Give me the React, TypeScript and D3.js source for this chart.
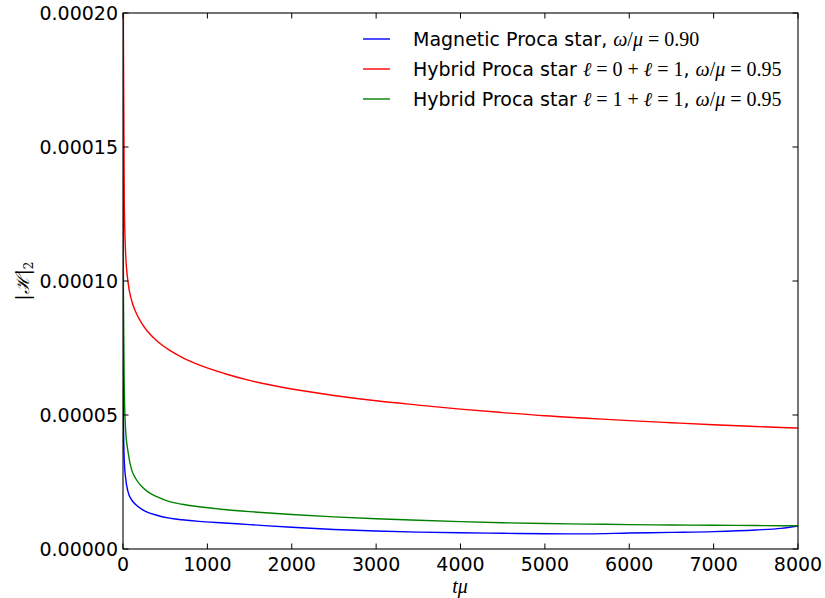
import React from "react";
import * as d3 from "d3";

const tGrid = [0, 5, 15, 30, 60, 100, 150, 220, 300, 400, 550, 700, 900, 1200, 1500, 2000, 2500, 3000, 3500, 4000, 4500, 5000, 5500, 6000, 6500, 7000, 7500, 7800, 8000];

// values in units of 1e-6
const hybrid01 = [300, 190, 130, 111, 99.5, 93.0, 88.5, 84.3, 80.9, 77.7, 74.2, 71.5, 68.7, 65.5, 62.9, 59.7, 57.3, 55.3, 53.7, 52.2, 50.9, 49.7, 48.8, 47.9, 47.1, 46.35, 45.7, 45.35, 45.1];

const hybrid11 = [180, 95, 60, 45, 36.2, 29.8, 26.3, 23.4, 21.2, 19.5, 17.7, 16.7, 15.75, 14.75, 13.95, 12.85, 12.0, 11.3, 10.7, 10.2, 9.8, 9.5, 9.3, 9.1, 8.95, 8.85, 8.75, 8.7, 8.7];

const magnetic = [80, 48, 33, 26.8, 21.3, 18.4, 16.6, 14.9, 13.6, 12.6, 11.5, 10.9, 10.3, 9.7, 9.1, 8.1, 7.3, 6.7, 6.3, 6.05, 5.85, 5.7, 5.65, 5.95, 6.2, 6.5, 7.1, 7.7, 8.6];

const xTicks = [0, 1000, 2000, 3000, 4000, 5000, 6000, 7000, 8000];
const yTicks = [0, 0.00005, 0.0001, 0.00015, 0.0002];

const seriesNames = ["Magnetic Proca star", "Hybrid Proca star", "Hybrid Proca star"];
const seriesColors = ["#0000ff", "#ff0000", "#008000"];

const W = 825, H = 598;
const L = 123, R = 798, T = 13, B = 549;

export default function App() {
  const x = d3.scaleLinear().domain([0, 8000]).range([L, R]);
  const y = d3.scaleLinear().domain([0, 0.0002]).range([B, T]);
  const line = d3
    .line<number>()
    .x((_, i) => x(tGrid[i]))
    .y((d) => y(d * 1e-6))
    .curve(d3.curveMonotoneX);

  const series = [magnetic, hybrid01, hybrid11];
  const sans = "'DejaVu Sans', sans-serif";
  const serif = "'DejaVu Serif', serif";
  const tickLen = 5.5;
  const math = { fontFamily: "'Liberation Serif', serif", fontSize: 20 } as const;

  const legendRows = [
    (
      <>
        <tspan>{seriesNames[0]}, </tspan>
        <tspan style={math}>
          <tspan fontStyle="italic">ω</tspan>/<tspan fontStyle="italic">μ</tspan> = 0.90
        </tspan>
      </>
    ),
    (
      <>
        <tspan>{seriesNames[1]} </tspan>
        <tspan style={math}>
          <tspan fontStyle="italic">ℓ</tspan> = 0 + <tspan fontStyle="italic">ℓ</tspan> = 1
        </tspan>
        <tspan>, </tspan>
        <tspan style={math}>
          <tspan fontStyle="italic">ω</tspan>/<tspan fontStyle="italic">μ</tspan> = 0.95
        </tspan>
      </>
    ),
    (
      <>
        <tspan>{seriesNames[2]} </tspan>
        <tspan style={math}>
          <tspan fontStyle="italic">ℓ</tspan> = 1 + <tspan fontStyle="italic">ℓ</tspan> = 1
        </tspan>
        <tspan>, </tspan>
        <tspan style={math}>
          <tspan fontStyle="italic">ω</tspan>/<tspan fontStyle="italic">μ</tspan> = 0.95
        </tspan>
      </>
    ),
  ];

  return (
    <svg width={W} height={H} style={{ position: "absolute", left: 0, top: 0, background: "#fff" }}>
      <defs>
        <clipPath id="plotclip">
          <rect x={L} y={T} width={R - L} height={B - T} />
        </clipPath>
      </defs>
      <rect x={0} y={0} width={W} height={H} fill="#fff" />
      <g clipPath="url(#plotclip)">
        {series.map((s, i) => (
          <path key={i} d={line(s) || ""} fill="none" stroke={seriesColors[i]} strokeWidth={1.4} />
        ))}
      </g>
      <rect x={L} y={T} width={R - L} height={B - T} fill="none" stroke="#000" strokeWidth={1.1} />
      {xTicks.map((t) => (
        <g key={"x" + t}>
          <line x1={x(t)} x2={x(t)} y1={B} y2={B - tickLen} stroke="#000" />
          <line x1={x(t)} x2={x(t)} y1={T} y2={T + tickLen} stroke="#000" />
          <text x={x(t)} y={570.5} textAnchor="middle" fontFamily={sans} fontSize={19}>
            {t}
          </text>
        </g>
      ))}
      {yTicks.map((v) => (
        <g key={"y" + v}>
          <line x1={L} x2={L + tickLen} y1={y(v)} y2={y(v)} stroke="#000" />
          <line x1={R} x2={R - tickLen} y1={y(v)} y2={y(v)} stroke="#000" />
          <text x={L - 5} y={y(v)} dy="0.36em" textAnchor="end" fontFamily={sans} fontSize={19}>
            {d3.format(".5f")(v)}
          </text>
        </g>
      ))}
      <text x={460} y={593} textAnchor="middle" style={math}>
        <tspan fontStyle="italic">tμ</tspan>
      </text>
      <text transform="translate(29,281) rotate(-90)" textAnchor="middle" fontFamily={serif} fontSize={18}>
        |<tspan fontStyle="italic">ℋ</tspan>|<tspan fontSize={12} dy={4}>2</tspan>
      </text>
      {legendRows.map((row, i) => (
        <g key={"lg" + i}>
          <line x1={363} x2={390} y1={39 + i * 30} y2={39 + i * 30} stroke={seriesColors[i]} strokeWidth={1.4} />
          <text x={413} y={39 + i * 30} dy="0.36em" fontFamily={sans} fontSize={19}>
            {row}
          </text>
        </g>
      ))}
    </svg>
  );
}
